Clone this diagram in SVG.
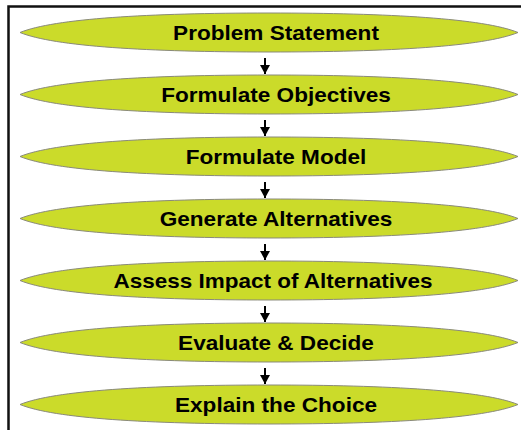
<svg xmlns="http://www.w3.org/2000/svg" width="521" height="430" viewBox="0 0 521 430">
<style>
.lens{fill:#cbdb2a;stroke:#8a8a7a;stroke-width:1}
.lbl{font-family:"Liberation Sans",Arial,sans-serif;font-size:20px;font-weight:bold;fill:#000;text-anchor:middle}
.arr{stroke:#000;stroke-width:2;fill:none;marker-end:url(#ah)}
</style>
<defs>
<path id="lens" d="M-249,0 C-215,-14 -120,-19.5 0,-19.5 C120,-19.5 215,-14 249,0 C215,14 120,19.5 0,19.5 C-120,19.5 -215,14 -249,0 Z"/>
<marker id="ah" markerWidth="10" markerHeight="10" refX="9" refY="5" orient="auto" markerUnits="userSpaceOnUse"><path d="M0,0 L9,5 L0,10 Z" fill="#000"/></marker>
</defs>
<rect width="521" height="430" fill="#fff"/>
<path d="M8.5,430 V6.5 H521" fill="none" stroke="#111" stroke-width="2.5"/>
<g id="connectors">
<line class="arr" x1="265" y1="58" x2="265" y2="74"/>
<line class="arr" x1="265" y1="120" x2="265" y2="136"/>
<line class="arr" x1="265" y1="182" x2="265" y2="198"/>
<line class="arr" x1="265" y1="244" x2="265" y2="260"/>
<line class="arr" x1="265" y1="306" x2="265" y2="322"/>
<line class="arr" x1="265" y1="368" x2="265" y2="384"/>
</g>
<g id="n1"><use href="#lens" class="lens" transform="translate(269,32.5)"/><text class="lbl" transform="translate(276,40) scale(1.13,1)">Problem Statement</text></g>
<g id="n2"><use href="#lens" class="lens" transform="translate(269,94.5)"/><text class="lbl" transform="translate(276,102) scale(1.13,1)">Formulate Objectives</text></g>
<g id="n3"><use href="#lens" class="lens" transform="translate(269,156.5)"/><text class="lbl" transform="translate(276,164) scale(1.13,1)">Formulate Model</text></g>
<g id="n4"><use href="#lens" class="lens" transform="translate(269,218.5)"/><text class="lbl" transform="translate(276,226) scale(1.13,1)">Generate Alternatives</text></g>
<g id="n5"><use href="#lens" class="lens" transform="translate(269,280.5)"/><text class="lbl" transform="translate(273,288) scale(1.125,1)">Assess Impact of Alternatives</text></g>
<g id="n6"><use href="#lens" class="lens" transform="translate(269,342.5)"/><text class="lbl" transform="translate(276,350) scale(1.13,1)">Evaluate &amp; Decide</text></g>
<g id="n7"><use href="#lens" class="lens" transform="translate(269,404.5)"/><text class="lbl" transform="translate(276,412) scale(1.13,1)">Explain the Choice</text></g>
</svg>
